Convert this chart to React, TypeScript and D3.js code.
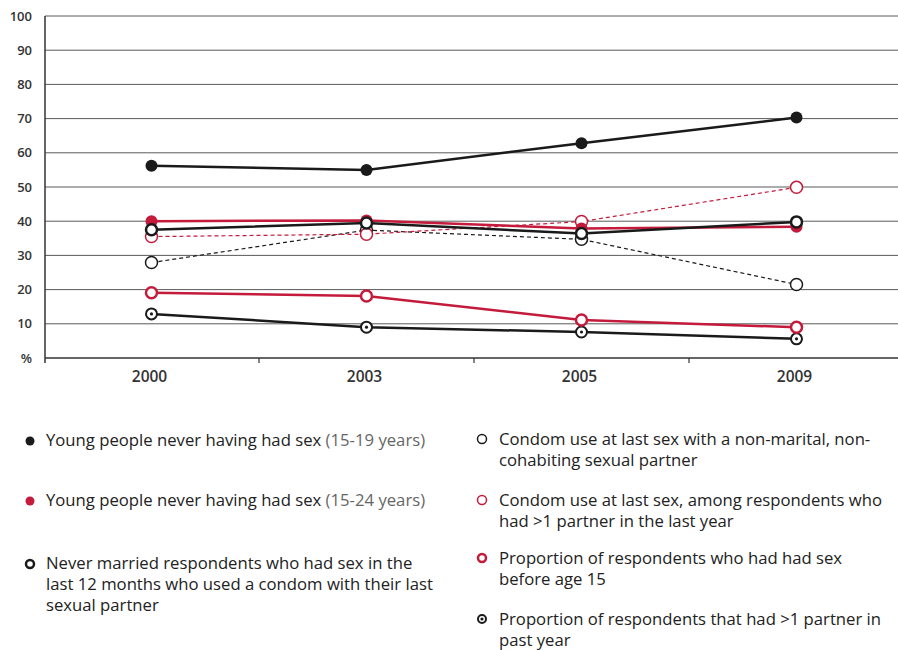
import * as d3 from 'd3';

const years = ['2000', '2003', '2005', '2009'];
const yTicks = [0, 10, 20, 30, 40, 50, 60, 70, 80, 90, 100];

const neverSex1519 = [56.2, 55.0, 62.8, 70.3];
const neverSex1524 = [40.0, 40.2, 37.9, 38.4];
const neverMarriedCondom = [37.5, 39.5, 36.4, 39.8];
const condomNonMarital = [27.9, 37.4, 34.7, 21.5];
const condomMultiPartner = [35.5, 36.2, 39.9, 49.9];
const sexBefore15 = [19.1, 18.1, 11.1, 9.0];
const multiPartner = [12.9, 9.0, 7.6, 5.6];

const RED = '#c41a3b';
const BLACK = '#1a1a1a';

type Marker = 'filled' | 'open' | 'openThick' | 'dot';

const series: { key: string; values: number[]; color: string; dashed: boolean; marker: Marker }[] = [
  { key: 'multiPartner', values: multiPartner, color: BLACK, dashed: false, marker: 'dot' },
  { key: 'sexBefore15', values: sexBefore15, color: RED, dashed: false, marker: 'openThick' },
  { key: 'condomNonMarital', values: condomNonMarital, color: BLACK, dashed: true, marker: 'open' },
  { key: 'condomMultiPartner', values: condomMultiPartner, color: RED, dashed: true, marker: 'open' },
  { key: 'neverSex1524', values: neverSex1524, color: RED, dashed: false, marker: 'filled' },
  { key: 'neverMarriedCondom', values: neverMarriedCondom, color: BLACK, dashed: false, marker: 'openThick' },
  { key: 'neverSex1519', values: neverSex1519, color: BLACK, dashed: false, marker: 'filled' },
];

const legendLeft: { color: string; marker: Marker; lines: string[]; note?: string }[] = [
  { color: BLACK, marker: 'filled', lines: ['Young people never having had sex'], note: ' (15-19 years)' },
  { color: RED, marker: 'filled', lines: ['Young people never having had sex'], note: ' (15-24 years)' },
  {
    color: BLACK,
    marker: 'openThick',
    lines: ['Never married respondents who had sex in the', 'last 12 months who used a condom with their last', 'sexual partner'],
  },
];
const legendRight: { color: string; marker: Marker; lines: string[]; note?: string }[] = [
  { color: BLACK, marker: 'open', lines: ['Condom use at last sex with a non-marital, non-', 'cohabiting sexual partner'] },
  { color: RED, marker: 'open', lines: ['Condom use at last sex, among respondents who', 'had >1 partner in the last year'] },
  { color: RED, marker: 'openThick', lines: ['Proportion of respondents who had had sex', 'before age 15'] },
  { color: BLACK, marker: 'dot', lines: ['Proportion of respondents that had >1 partner in', 'past year'] },
];

const leftRowY = [440, 500, 563];
const rightRowY = [439, 500, 558, 619];

function MarkerShape({ x, y, color, marker, r }: { x: number; y: number; color: string; marker: Marker; r: number }) {
  if (marker === 'filled') return <circle cx={x} cy={y} r={r} fill={color} />;
  if (marker === 'open') return <circle cx={x} cy={y} r={r} fill="#fff" stroke={color} strokeWidth={1.5} />;
  if (marker === 'openThick') return <circle cx={x} cy={y} r={r - 0.5} fill="#fff" stroke={color} strokeWidth={2.5} />;
  return (
    <g>
      <circle cx={x} cy={y} r={r - 0.5} fill="#fff" stroke={color} strokeWidth={2} />
      <circle cx={x} cy={y} r={1.6} fill={color} />
    </g>
  );
}

export default function App() {
  const width = 898;
  const height = 650;
  const axisLeft = 45;
  const x = d3.scalePoint<string>().domain(years).range([44, 904]).padding(0.5);
  const band = d3.scaleBand<string>().domain(years).range([44, 904]);
  const y = d3.scaleLinear().domain([0, 100]).range([358, 16]);
  const line = d3
    .line<number>()
    .x((_, i) => x(years[i])!)
    .y((d) => y(d));

  const font = "'Open Sans', 'DejaVu Sans', sans-serif";
  const legendSize = 16.7;

  return (
    <svg
      width={width}
      height={height}
      style={{ position: 'absolute', left: 0, top: 0, background: '#fff' }}
      fontFamily={font}
    >
      {/* grid */}
      {yTicks.map((t) => (
        <g key={t}>
          <line
            x1={axisLeft}
            x2={width}
            y1={y(t)}
            y2={y(t)}
            stroke={t === 0 ? '#333' : '#5a5a5a'}
            strokeWidth={t === 0 ? 1.5 : 1}
          />
          <text x={32} y={y(t)} dy="0.35em" textAnchor="end" fontSize={13} fontWeight={600} fill="#333">
            {t === 0 ? '%' : t}
          </text>
        </g>
      ))}
      <line x1={axisLeft} x2={axisLeft} y1={y(100)} y2={y(0) + 5} stroke="#333" strokeWidth={1.5} />
      {years.slice(1).map((yr) => (
        <line key={yr} x1={band(yr)!} x2={band(yr)!} y1={y(0)} y2={y(0) + 5} stroke="#333" strokeWidth={1.2} />
      ))}
      {years.map((yr) => (
        <text key={yr} x={x(yr)! - 2} y={377} dy="0.35em" textAnchor="middle" fontSize={15.5} fontWeight={600} fill="#333">
          {yr}
        </text>
      ))}

      {/* lines */}
      {series.map((s) => (
        <path
          key={s.key}
          d={line(s.values)!}
          fill="none"
          stroke={s.color}
          strokeWidth={s.dashed ? 1.2 : 2.5}
          strokeDasharray={s.dashed ? '4 3' : undefined}
        />
      ))}
      {/* markers */}
      {series.map((s) => (
        <g key={s.key}>
          {s.values.map((v, i) => (
            <MarkerShape key={i} x={x(years[i])!} y={y(v)} color={s.color} marker={s.marker} r={6} />
          ))}
        </g>
      ))}

      {/* legend */}
      {legendLeft.map((item, i) => (
        <g key={i}>
          <MarkerShape x={30} y={leftRowY[i] + 1} color={item.color} marker={item.marker} r={4.5} />
          <text x={46} y={leftRowY[i]} fontSize={legendSize} fill="#222">
            {item.lines.map((l, j) => (
              <tspan key={j} x={46} dy={j === 0 ? '0.35em' : 21}>
                {l}
                {j === 0 && item.note ? <tspan fill="#666">{item.note}</tspan> : null}
              </tspan>
            ))}
          </text>
        </g>
      ))}
      {legendRight.map((item, i) => (
        <g key={i}>
          <MarkerShape x={482} y={rightRowY[i]} color={item.color} marker={item.marker} r={4.5} />
          <text x={499} y={rightRowY[i]} fontSize={legendSize} fill="#222">
            {item.lines.map((l, j) => (
              <tspan key={j} x={499} dy={j === 0 ? '0.35em' : 21}>
                {l}
              </tspan>
            ))}
          </text>
        </g>
      ))}
    </svg>
  );
}
